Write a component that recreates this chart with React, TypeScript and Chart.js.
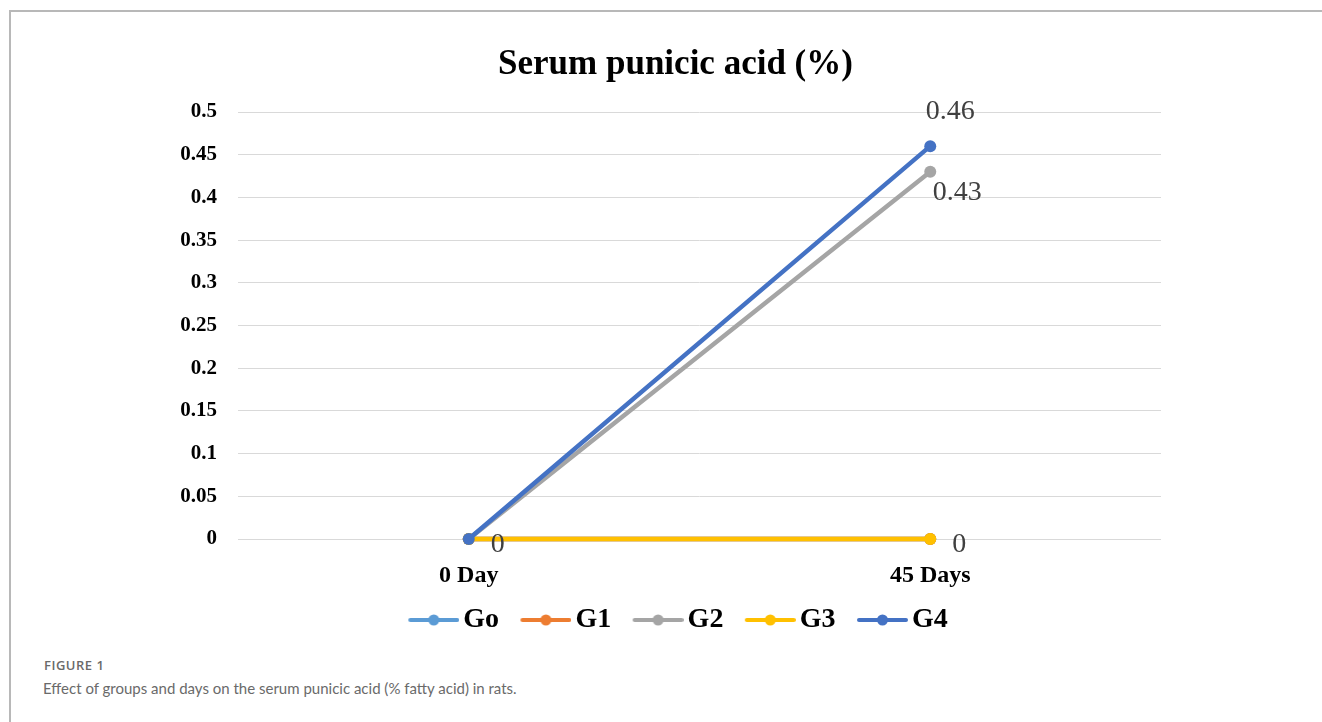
import React, { useEffect, useRef } from "react";
import { Chart, registerables } from "chart.js";

Chart.register(...registerables);

// ---------- data ----------
const categories = ["0 Day", "45 Days"];
const seriesNames = ["Go", "G1", "G2", "G3", "G4"];
const goValues = [0, 0];
const g1Values = [0, 0];
const g2Values = [0, 0.43];
const g3Values = [0, 0];
const g4Values = [0, 0.46];
const seriesValues = [goValues, g1Values, g2Values, g3Values, g4Values];
const seriesColors = ["#5B9BD5", "#ED7D31", "#A5A5A5", "#FFC000", "#4472C4"];
const yMin = 0;
const yMax = 0.5;
const yStep = 0.05;
const titleText = "Serum punicic acid (%)";
const captionLabel = "FIGURE 1";
const captionText =
  "Effect of groups and days on the serum punicic acid (% fatty acid) in rats.";

// value labels: which series / category get a label, and where it sits
const valueLabelSpecs = [
  { series: 3, index: 0, dx: 29, dy: 6 },
  { series: 3, index: 1, dx: 29, dy: 6 },
  { series: 2, index: 1, dx: 27, dy: 21 },
  { series: 4, index: 1, dx: 20, dy: -35 },
];

const SERIF = "'Liberation Serif', 'Times New Roman', serif";

function legendSwatch(color: string): HTMLCanvasElement {
  const c = document.createElement("canvas");
  c.width = 66;
  c.height = 14;
  const g = c.getContext("2d")!;
  g.strokeStyle = color;
  g.lineWidth = 4;
  g.lineCap = "round";
  g.beginPath();
  g.moveTo(17, 7);
  g.lineTo(64, 7);
  g.stroke();
  g.fillStyle = color;
  g.beginPath();
  g.arc(40.5, 7, 5.5, 0, Math.PI * 2);
  g.fill();
  return c;
}

const valueLabelPlugin = {
  id: "valueLabels",
  afterDatasetsDraw(chart: any) {
    const ctx = chart.ctx;
    ctx.save();
    ctx.font = `28px ${SERIF}`;
    ctx.fillStyle = "#404040";
    ctx.textAlign = "center";
    ctx.textBaseline = "middle";
    valueLabelSpecs.forEach((s) => {
      const meta = chart.getDatasetMeta(s.series);
      const el = meta.data[s.index];
      const v = chart.data.datasets[s.series].data[s.index];
      if (!el) return;
      ctx.fillText(String(v), el.x + s.dx, el.y + s.dy);
    });
    ctx.restore();
  },
};

export default function App() {
  const canvasRef = useRef<HTMLCanvasElement | null>(null);

  useEffect(() => {
    const canvas = canvasRef.current;
    if (!canvas) return;
    const n = seriesNames.length;
    const swatches = seriesColors.map((c) => legendSwatch(c));
    const chart = new Chart(canvas, {
      type: "line",
      data: {
        labels: categories,
        datasets: seriesNames.map((name, i) => ({
          label: name,
          data: seriesValues[i],
          borderColor: seriesColors[i],
          backgroundColor: seriesColors[i],
          pointBackgroundColor: seriesColors[i],
          pointBorderColor: seriesColors[i],
          borderWidth: 4.5,
          pointRadius: 6,
          pointBorderWidth: 0,
          tension: 0,
          fill: false,
          clip: false as any,
          borderCapStyle: "round" as const,
          order: n - i,
        })),
      },
      options: {
        animation: false,
        responsive: false,
        maintainAspectRatio: false,
        layout: { padding: { left: 150, right: 121, top: 0, bottom: 0 } },
        plugins: {
          title: {
            display: true,
            text: titleText,
            color: "#000",
            font: { family: SERIF, size: 35, weight: "bold" },
            padding: { top: 43.5, bottom: 26.5 },
          },
          legend: {
            position: "bottom",
            labels: {
              usePointStyle: true,
              pointStyleWidth: 46,
              padding: 16.4,
              color: "#000",
              font: { family: SERIF, size: 28, weight: "bold" },
              generateLabels: (ch: any) =>
                ch.data.datasets.map((ds: any, i: number) => ({
                  text: ds.label,
                  datasetIndex: i,
                  fillStyle: seriesColors[i],
                  strokeStyle: seriesColors[i],
                  lineWidth: 0,
                  hidden: false,
                  pointStyle: swatches[i],
                  fontColor: "#000",
                })),
            },
          },
          tooltip: { enabled: false },
        },
        scales: {
          x: {
            offset: true,
            grid: { display: false },
            border: { display: false },
            ticks: {
              padding: 14,
              color: "#000",
              font: { family: SERIF, size: 24, weight: "bold" },
            },
            afterFit: (s: any) => {
              s.height = 50.6;
            },
          },
          y: {
            min: yMin,
            max: yMax,
            grid: { color: "#D9D9D9", drawTicks: false, lineWidth: 1 },
            border: { display: false },
            ticks: {
              stepSize: yStep,
              padding: 21,
              color: "#000",
              font: { family: SERIF, size: 21, weight: "bold" },
              callback: (v: any) => String(parseFloat(Number(v).toFixed(2))),
            },
            afterFit: (s: any) => {
              s.width = 88;
            },
          },
          yRight: {
            position: "right",
            min: yMin,
            max: yMax,
            grid: { display: false, drawTicks: false },
            border: { display: false },
            ticks: { display: false },
            afterFit: (s: any) => {
              s.width = 40;
            },
          },
        },
      } as any,
      plugins: [valueLabelPlugin],
    });
    return () => chart.destroy();
  }, []);

  return (
    <div
      style={{
        position: "absolute",
        left: 0,
        top: 0,
        width: 1322,
        height: 722,
        background: "#fff",
        overflow: "hidden",
      }}
    >
      <div
        style={{
          position: "absolute",
          left: 9,
          top: 10,
          width: 1330,
          height: 730,
          borderTop: "2px solid #b8b8b8",
          borderLeft: "2px solid #b8b8b8",
        }}
      />
      <canvas
        ref={canvasRef}
        width={1322}
        height={644}
        style={{ position: "absolute", left: 0, top: 0, display: "block" }}
      />
      <div
        style={{
          position: "absolute",
          left: 44,
          top: 659,
          fontFamily: "'Open Sans', sans-serif",
          fontSize: 13,
          lineHeight: "13px",
          fontWeight: 600,
          letterSpacing: "0.5px",
          color: "#6a6a6a",
          whiteSpace: "nowrap",
        }}
      >
        {captionLabel}
      </div>
      <div
        style={{
          position: "absolute",
          left: 43,
          top: 680,
          fontFamily: "Lato, sans-serif",
          fontSize: 15,
          lineHeight: "16px",
          color: "#6a6a6a",
          whiteSpace: "nowrap",
        }}
      >
        {captionText}
      </div>
    </div>
  );
}
